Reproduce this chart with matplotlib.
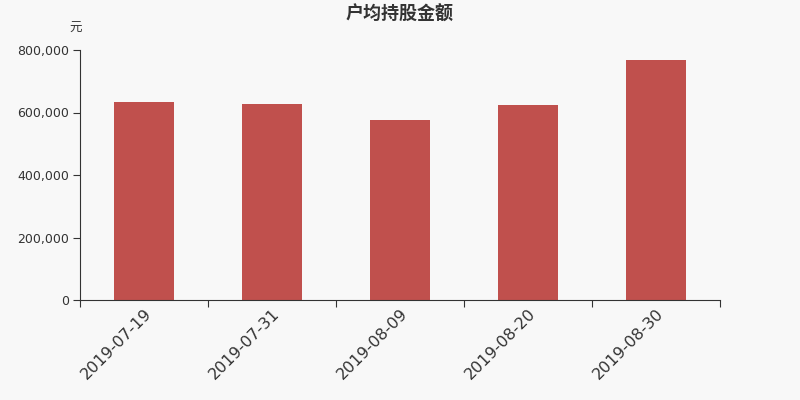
import matplotlib.pyplot as plt
import numpy as np
from matplotlib.ticker import FuncFormatter

plt.rcParams['font.family'] = ['DejaVu Sans', 'Noto Sans CJK SC']

# 数据
fechas = ['2019-07-19', '2019-07-31', '2019-08-09', '2019-08-20', '2019-08-30']
valores = [633600, 627200, 575000, 624000, 767000]

fondo = '#f8f8f8'
color_barra = '#c0504d'
color_texto = '#333333'

fig = plt.figure(figsize=(8, 4), dpi=100, facecolor=fondo)
ax = fig.add_axes([0.1, 0.25, 0.8, 0.625], facecolor=fondo)

x = np.arange(len(fechas))
ax.bar(x, valores, width=0.47, color=color_barra)

ax.set_xlim(-0.5, len(fechas) - 0.5)
ax.set_ylim(0, 800000)
ax.set_yticks([0, 200000, 400000, 600000, 800000])
ax.yaxis.set_major_formatter(FuncFormatter(lambda v, p: f'{int(v):,}'))

# ticks del eje x en los limites de cada categoria, etiquetas en el centro
ax.set_xticks(np.arange(len(fechas) + 1) - 0.5)
ax.set_xticklabels([])
ax.set_xticks(x, minor=True)
ax.set_xticklabels(fechas, minor=True, rotation=45, ha='right', rotation_mode='anchor',
                   fontsize=11.5, color=color_texto)
ax.tick_params(axis='x', which='minor', length=0, pad=4)
ax.tick_params(axis='x', which='major', length=5, color=color_texto)
ax.tick_params(axis='y', length=5, color=color_texto, labelsize=9, labelcolor=color_texto, pad=3)

for lado in ['top', 'right']:
    ax.spines[lado].set_visible(False)
for lado in ['left', 'bottom']:
    ax.spines[lado].set_color(color_texto)

fig.text(0.5, 0.965, '户均持股金额', ha='center', va='center', fontsize=13,
         fontweight='bold', color=color_texto, family=['Noto Sans CJK SC', 'DejaVu Sans'])
fig.text(0.103, 0.928, '元', ha='right', va='center', fontsize=9,
         color=color_texto, family=['Noto Sans CJK SC', 'DejaVu Sans'])

fig.savefig('out.png', dpi=100, facecolor=fondo)
